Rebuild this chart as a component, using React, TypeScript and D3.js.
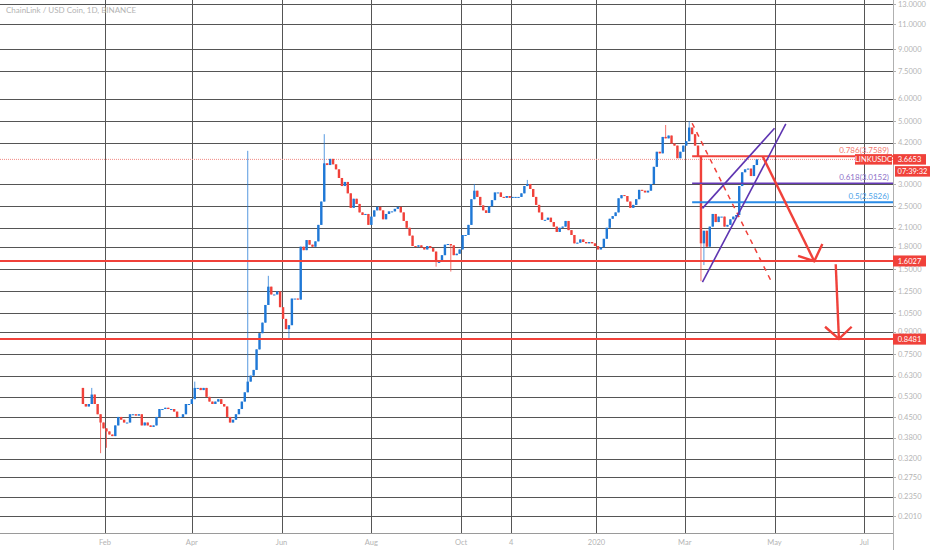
import { useEffect, useRef } from 'react';
import * as d3 from 'd3';

const WIDTH = 932;
const HEIGHT = 550;

const title = 'ChainLink / USD Coin, 1D, BINANCE';

// candles: one every two days, open = previous close
const candleStart = '2019-01-16';
const candleStepDays = 2;
const firstOpen = 0.57;
const closes = [
  0.5, 0.49, 0.5, 0.54, 0.5, 0.46, 0.43, 0.41, 0.4, 0.39,
  0.385, 0.42, 0.45, 0.44, 0.43, 0.43, 0.46, 0.46, 0.455, 0.46,
  0.42, 0.43, 0.42, 0.415, 0.42, 0.45, 0.48, 0.48, 0.485, 0.48,
  0.48, 0.47, 0.45, 0.45, 0.46, 0.5, 0.5, 0.52, 0.57, 0.57,
  0.56, 0.57, 0.53, 0.51, 0.5, 0.51, 0.52, 0.5, 0.49, 0.45,
  0.43, 0.44, 0.46, 0.48, 0.51, 0.55, 0.6, 0.63, 0.66, 0.78,
  0.89, 0.97, 1.12, 1.3, 1.22, 1.22, 1.25, 1.1, 1.0, 0.92,
  0.95, 1.18, 1.18, 1.17, 1.8, 1.75, 1.9, 1.83, 1.8, 1.88,
  2.15, 2.6, 3.55, 3.5, 3.68, 3.52, 3.38, 3.15, 2.95, 3.05,
  2.78, 2.47, 2.66, 2.55, 2.38, 2.33, 2.35, 2.15, 2.3, 2.42,
  2.49, 2.42, 2.25, 2.35, 2.4, 2.4, 2.45, 2.49, 2.38, 2.22,
  2.1, 1.97, 1.81, 1.8, 1.82, 1.79, 1.76, 1.81, 1.78, 1.73,
  1.59, 1.59, 1.68, 1.83, 1.84, 1.82, 1.68, 1.7, 1.76, 1.98,
  1.98, 2.15, 2.65, 2.84, 2.7, 2.52, 2.42, 2.37, 2.5, 2.63,
  2.8, 2.8, 2.7, 2.68, 2.72, 2.68, 2.7, 2.7, 2.7, 2.78,
  2.95, 3.0, 2.88, 2.7, 2.53, 2.38, 2.24, 2.24, 2.28, 2.2,
  2.12, 2.03, 2.1, 2.12, 2.22, 2.06, 1.98, 1.85, 1.86, 1.91,
  1.87, 1.85, 1.87, 1.85, 1.81, 1.76, 1.79, 1.92, 2.1, 2.26,
  2.31, 2.38, 2.67, 2.74, 2.72, 2.6, 2.47, 2.53, 2.65, 2.86,
  2.84, 2.8, 2.84, 3.0, 3.45, 3.9, 3.85, 4.4, 4.35, 4.45,
  4.17, 4.1, 3.7, 3.9, 4.1, 4.25, 4.75, 4.5, 4.1, 3.75,
  1.85, 2.05, 1.8, 2.12, 2.35, 2.2, 2.3, 2.3, 2.12, 2.15,
  2.25, 2.3, 2.33, 2.95, 3.3, 3.38, 3.4, 3.2, 3.5, 3.6653,
];
// notable wicks: [candle index, price]
const wickHighs: [number, number][] = [
  [3, 0.57], [38, 0.6], [56, 3.93], [63, 1.42], [82, 4.5], [133, 3.0], [151, 3.1], [198, 4.85], [206, 5.0],
];
const wickLows: [number, number][] = [
  [6, 0.335], [8, 0.35], [70, 0.85], [120, 1.53], [125, 1.47], [210, 1.36], [211, 1.55],
];

const priceTicks = [
  13, 11, 9, 7.5, 6, 5, 4.2, 3, 2.5, 2.1, 1.8, 1.5, 1.25, 1.05, 0.9, 0.75, 0.63, 0.53, 0.45, 0.38, 0.32,
  0.275, 0.235, 0.201,
];
const timeTicks: [string, string][] = [
  ['2019-02-01', 'Feb'],
  ['2019-04-01', 'Apr'],
  ['2019-06-01', 'Jun'],
  ['2019-08-01', 'Aug'],
  ['2019-10-01', 'Oct'],
  ['2019-11-04', '4'],
  ['2020-01-01', '2020'],
  ['2020-03-01', 'Mar'],
  ['2020-05-01', 'May'],
  ['2020-07-01', 'Jul'],
];

const symbol = 'LINKUSDC';
const lastPrice = 3.6653;
const countdown = '07:39:32';
const supportLevels = [1.6027, 0.8481];

const fibStart = '2020-03-06';
const fibRatios = ['0.786', '0.618', '0.5'];
const fibPrices = [3.7589, 3.0152, 2.5826];

type Pt = [string, number];
const dashedTrend: Pt[] = [['2020-03-06', 4.92], ['2020-04-29', 1.35]];
const wedgeUpper: Pt[] = [['2020-03-13', 2.46], ['2020-05-01', 4.72]];
const wedgeLower: Pt[] = [['2020-03-13', 1.35], ['2020-05-08T16:00Z', 4.89]];
const arrowOne: Pt[][] = [
  [['2020-04-23', 3.75], ['2020-05-28', 1.6]],
  [['2020-05-17', 1.67], ['2020-05-28', 1.6], ['2020-06-02T12:00Z', 1.84]],
];
const arrowTwo: Pt[][] = [
  [['2020-06-11T14:00Z', 1.56], ['2020-06-13T18:00Z', 0.849]],
  [['2020-06-04T08:00Z', 0.938], ['2020-06-13T18:00Z', 0.849], ['2020-06-22T10:00Z', 0.938]],
];

const RED = '#f0413a';
const BLUE = '#1f78d6';
const PURPLE = '#5e35b1';
const GRID = '#555555';
const TEXT = '#b4b4b4';
const FONT = 'Lato, "Open Sans", sans-serif';
const fibColors = ['#f0413a', '#673ab7', '#2a8be6'];
const fibWidths = [2, 1.5, 2];
const fibTextColors = ['#f2776e', '#8f73c9', '#4d9fe8'];

type Candle = { date: Date; open: number; high: number; low: number; close: number };

const day = (s: string) => new Date(s.length === 10 ? `${s}T00:00:00Z` : s);

function drawChart(svgElement: SVGSVGElement) {
  const svg = d3.select(svgElement);
  svg.selectAll('*').remove();
  svg.attr('viewBox', `0 0 ${WIDTH} ${HEIGHT}`).attr('width', WIDTH).attr('height', HEIGHT);

  const plotRight = 893;
  const plotBottom = 533;

  const x = d3.scaleUtc().domain([day('2019-02-01'), day('2020-07-01')]).range([105, 864.3]);
  const y = d3.scaleLog().domain([0.1749, 13.42]).range([plotBottom, 0]);

  svg.append('rect').attr('width', WIDTH).attr('height', HEIGHT).attr('fill', '#ffffff');

  // grid
  const grid = svg.append('g').attr('shape-rendering', 'crispEdges');
  grid
    .selectAll('line.h')
    .data(priceTicks)
    .join('line')
    .attr('x1', 0)
    .attr('x2', plotRight)
    .attr('y1', (v: number) => Math.round(y(v)) + 0.5)
    .attr('y2', (v: number) => Math.round(y(v)) + 0.5)
    .attr('stroke', GRID);
  grid
    .selectAll('line.v')
    .data(timeTicks)
    .join('line')
    .attr('x1', (t: [string, string]) => Math.round(x(day(t[0]))) + 0.5)
    .attr('x2', (t: [string, string]) => Math.round(x(day(t[0]))) + 0.5)
    .attr('y1', 0)
    .attr('y2', plotBottom)
    .attr('stroke', GRID);

  // last price dotted line
  svg
    .append('line')
    .attr('x1', 0)
    .attr('x2', plotRight)
    .attr('y1', y(lastPrice))
    .attr('y2', y(lastPrice))
    .attr('stroke', '#f28a84')
    .attr('stroke-width', 1)
    .attr('stroke-dasharray', '1,1');

  // candles
  const start = day(candleStart);
  const highs = new Map<number, number>(wickHighs);
  const lows = new Map<number, number>(wickLows);
  const candles: Candle[] = closes.map((close, i) => {
    const open = i === 0 ? firstOpen : closes[i - 1];
    return {
      date: d3.utcDay.offset(start, i * candleStepDays + 1),
      open,
      close,
      high: Math.max(open, close, highs.get(i) ?? 0),
      low: Math.min(open, close, lows.get(i) ?? Infinity),
    };
  });
  const step = x(d3.utcDay.offset(start, candleStepDays)) - x(start);
  const bodyW = Math.max(1, step * 0.82);
  const color = (c: Candle) => (c.close >= c.open ? BLUE : RED);

  const cg = svg.append('g');
  cg.selectAll('line')
    .data(candles)
    .join('line')
    .attr('x1', (c: Candle) => x(c.date))
    .attr('x2', (c: Candle) => x(c.date))
    .attr('y1', (c: Candle) => y(c.high))
    .attr('y2', (c: Candle) => y(c.low))
    .attr('stroke', color)
    .attr('stroke-opacity', 0.75)
    .attr('stroke-width', 1);
  cg.selectAll('rect')
    .data(candles)
    .join('rect')
    .attr('x', (c: Candle) => x(c.date) - bodyW / 2)
    .attr('y', (c: Candle) => y(Math.max(c.open, c.close)))
    .attr('width', bodyW)
    .attr('height', (c: Candle) => Math.max(1, Math.abs(y(c.open) - y(c.close))))
    .attr('fill', color);

  // support levels
  svg
    .append('g')
    .selectAll('line')
    .data(supportLevels)
    .join('line')
    .attr('x1', 0)
    .attr('x2', plotRight)
    .attr('y1', (v: number) => y(v))
    .attr('y2', (v: number) => y(v))
    .attr('stroke', RED)
    .attr('stroke-width', 2);

  // fib levels
  const fg = svg.append('g');
  fibPrices.forEach((p, i) => {
    fg.append('line')
      .attr('x1', x(day(fibStart)))
      .attr('x2', plotRight)
      .attr('y1', y(p))
      .attr('y2', y(p))
      .attr('stroke', fibColors[i])
      .attr('stroke-width', fibWidths[i]);
    fg.append('text')
      .attr('x', 889)
      .attr('y', y(p) - 3)
      .attr('text-anchor', 'end')
      .attr('fill', fibTextColors[i])
      .attr('font-family', FONT)
      .attr('font-size', 8)
      .text(`${fibRatios[i]}(${p.toFixed(4)})`);
  });

  const line = d3
    .line<Pt>()
    .x((d) => x(day(d[0])))
    .y((d) => y(d[1]));

  svg
    .append('path')
    .attr('d', line(dashedTrend))
    .attr('fill', 'none')
    .attr('stroke', RED)
    .attr('stroke-width', 1.5)
    .attr('stroke-dasharray', '5,5');

  [wedgeUpper, wedgeLower].forEach((w) => {
    svg
      .append('path')
      .attr('d', line(w))
      .attr('fill', 'none')
      .attr('stroke', PURPLE)
      .attr('stroke-width', 1.6);
  });

  [...arrowOne, ...arrowTwo].forEach((seg) => {
    svg
      .append('path')
      .attr('d', line(seg))
      .attr('fill', 'none')
      .attr('stroke', RED)
      .attr('stroke-width', 2.4)
      .attr('stroke-linejoin', 'miter');
  });

  // axes frame
  svg
    .append('line')
    .attr('x1', 0)
    .attr('x2', plotRight)
    .attr('y1', plotBottom + 0.5)
    .attr('y2', plotBottom + 0.5)
    .attr('stroke', '#9a9a9a');
  svg
    .append('line')
    .attr('x1', plotRight + 0.5)
    .attr('x2', plotRight + 0.5)
    .attr('y1', 0)
    .attr('y2', HEIGHT)
    .attr('stroke', '#b0b0b0');

  // price axis
  const ya = svg.append('g').attr('font-family', FONT).attr('font-size', 7.5).attr('fill', TEXT);
  priceTicks.forEach((v) => {
    ya.append('line')
      .attr('x1', plotRight)
      .attr('x2', plotRight + 3)
      .attr('y1', Math.round(y(v)) + 0.5)
      .attr('y2', Math.round(y(v)) + 0.5)
      .attr('stroke', '#b0b0b0');
    ya.append('text')
      .attr('x', 898)
      .attr('y', y(v))
      .attr('dy', '0.35em')
      .text(d3.format('.4f')(v));
  });

  // time axis
  const xa = svg.append('g').attr('font-family', FONT).attr('font-size', 7.5).attr('fill', TEXT);
  timeTicks.forEach(([d, label]) => {
    xa.append('text')
      .attr('x', x(day(d)))
      .attr('y', 545)
      .attr('text-anchor', 'middle')
      .text(label);
  });

  // price labels
  const tag = (x0: number, yc: number, w: number, h: number, text: string) => {
    svg
      .append('rect')
      .attr('x', x0)
      .attr('y', yc - h / 2)
      .attr('width', w)
      .attr('height', h)
      .attr('fill', RED);
    svg
      .append('text')
      .attr('x', x0 + w / 2)
      .attr('y', yc)
      .attr('dy', '0.35em')
      .attr('text-anchor', 'middle')
      .attr('fill', '#ffffff')
      .attr('font-family', FONT)
      .attr('font-size', 7.5)
      .text(text);
  };
  supportLevels.forEach((v) => tag(plotRight, y(v), 33, 11, v.toFixed(4)));
  tag(855, y(lastPrice), 37, 10.5, symbol);
  tag(plotRight, y(lastPrice), 33, 10.5, lastPrice.toFixed(4));
  tag(895, y(lastPrice) + 12, 35, 10.5, countdown);

  svg
    .append('text')
    .attr('x', 6)
    .attr('y', 13)
    .attr('fill', TEXT)
    .attr('font-family', FONT)
    .attr('font-size', 8)
    .text(title);
}

export default function App() {
  const svgRef = useRef<SVGSVGElement>(null);

  useEffect(() => {
    if (svgRef.current) {
      drawChart(svgRef.current);
    }
  }, []);

  return (
    <div style={{ position: 'absolute', left: 0, top: 0, width: WIDTH, height: HEIGHT, background: '#fff' }}>
      <svg ref={svgRef} style={{ display: 'block' }} />
    </div>
  );
}
